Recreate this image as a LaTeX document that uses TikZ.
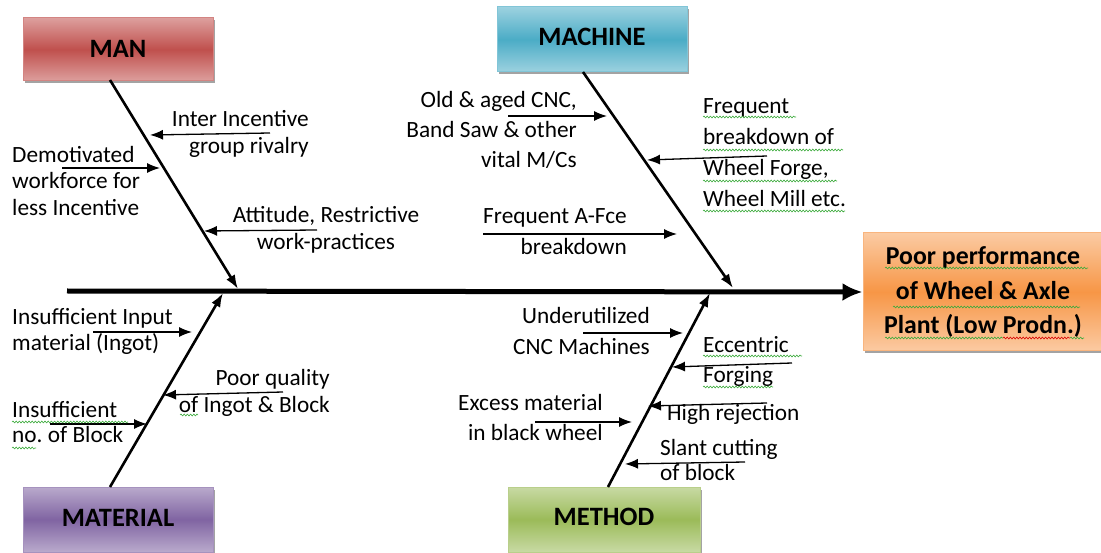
\documentclass[tikz,border=0pt]{standalone}
\usepackage{fontspec}
\setmainfont{Carlito}
\usetikzlibrary{arrows.meta,shadows,decorations.pathmorphing}
\definecolor{manc}{HTML}{C0504D}
\definecolor{macc}{HTML}{4BACC6}
\definecolor{matc}{HTML}{8064A2}
\definecolor{metc}{HTML}{9BBB59}
\definecolor{resc}{HTML}{F79646}
\definecolor{squig}{HTML}{3BAA3B}
\begin{document}
\begin{tikzpicture}[x=1pt,y=-1pt,
  catbox/.style={draw=#1!70!white, line width=1pt, top color=#1!55!white, bottom color=#1!55!white, middle color=#1,
    minimum width=190pt, minimum height=63pt, inner sep=0pt,
    font=\fontsize{26.5}{30}\selectfont\bfseries,
    drop shadow={shadow xshift=2pt, shadow yshift=-2.5pt, fill=black!60, opacity=0.6}},
  lbl/.style={inner sep=0pt, font=\fontsize{23.3}{27}\selectfont},
  spine/.style={line width=5pt, -{Latex[length=20pt,width=18pt]}},
  bone/.style={line width=2.6pt, -{Latex[length=14pt,width=10pt]}},
  sub/.style={line width=1.3pt, -{Latex[length=13pt,width=10pt]}},
  wavy/.style={draw=squig, line width=0.6pt, decorate, decoration={snake, amplitude=0.9pt, segment length=3.2pt}},
  wavyr/.style={wavy, draw=red!85!black}]
\useasboundingbox (0,0) rectangle (1101,553);

% category boxes
\node[catbox=manc] (man) at (118,49.5) {\raisebox{2pt}{MAN}};
\node[catbox=macc, minimum height=65pt] (mach) at (592,39.5) {\raisebox{4.5pt}{MACHINE}};
\node[catbox=matc, minimum height=65pt] (mat) at (118,519.5) {\raisebox{4pt}{MATERIAL}};
\node[catbox=metc, minimum height=65pt, minimum width=192pt] (meth) at (604,519.5) {\raisebox{5pt}{METHOD}};

% result box
\node[draw=resc!70!white, line width=1pt, top color=resc!50!white, bottom color=resc!50!white, middle color=resc,
  minimum width=240pt, minimum height=118pt, inner sep=0pt, align=center,
  font=\fontsize{25.8}{34.5}\selectfont\bfseries,
  drop shadow={shadow xshift=2pt, shadow yshift=-2.5pt, fill=black!60, opacity=0.6}] (res) at (983,292)
  {Poor performance\\of Wheel \& Axle\\Plant (Low Prodn.)};

% spine
\coordinate (spL) at (67,291);
\draw[spine] (spL) -- (res.west);

% bones
\coordinate (manB) at (110,80);   \coordinate (manT) at (238,289);
\coordinate (macB) at (583,72);   \coordinate (macT) at (733,288);
\coordinate (matB) at (110,487);  \coordinate (matT) at (223,293);
\coordinate (metB) at (608,487);  \coordinate (metT) at (710,293);
\draw[bone] (manB) -- (manT);
\draw[bone] (macB) -- (macT);
\draw[bone] (matB) -- (matT);
\draw[bone] (metB) -- (metT);

% MAN causes
\node[lbl, anchor=north east, align=right] (m1) at (309,110) {Inter Incentive\\group rivalry};
\node[lbl, anchor=north west, align=left, font=\fontsize{23.3}{26.5}\selectfont] (m2) at (12,146) {Demotivated\\workforce for\\less Incentive};
\node[lbl, anchor=north, align=center] (m3) at (326,206) {Attitude, Restrictive\\work-practices};
\coordinate (m1a) at (270,133); \coordinate (m1b) at (150,135);
\coordinate (m2a) at (62,168);  \coordinate (m2b) at (160,168);
\coordinate (m3a) at (317,230); \coordinate (m3b) at (204,231);
\draw[sub] (m1a) -- (m1b);
\draw[sub] (m2a) -- (m2b);
\draw[sub] (m3a) -- (m3b);

% MACHINE causes
\node[lbl, anchor=north east, align=right, font=\fontsize{23.3}{30}\selectfont] (c1) at (577,91) {Old \& aged CNC,\\Band Saw \& other\\vital M/Cs};
\node[lbl, anchor=north west, align=left, font=\fontsize{23.3}{31}\selectfont] (c2) at (703,98) {Frequent\\breakdown of\\Wheel Forge,\\Wheel Mill etc.};
\node[lbl, anchor=north east, align=right, font=\fontsize{23.3}{31}\selectfont] (c3) at (627,208) {Frequent A-Fce\\breakdown};
\coordinate (c1a) at (508,116); \coordinate (c1b) at (607,116);
\coordinate (c2a) at (767,156); \coordinate (c2b) at (647,160);
\coordinate (c3a) at (483,234); \coordinate (c3b) at (677,234);
\draw[sub] (c1a) -- (c1b);
\draw[sub] (c2a) -- (c2b);
\draw[sub] (c3a) -- (c3b);

% MATERIAL causes
\node[lbl, anchor=north west, align=left, font=\fontsize{23.3}{26}\selectfont] (t1) at (12,308) {Insufficient Input\\material (Ingot)};
\node[lbl, anchor=north east, align=right] (t2) at (330,369) {Poor quality\\of Ingot \& Block};
\node[lbl, anchor=north west, align=left, font=\fontsize{23.3}{25}\selectfont] (t3) at (12,401) {Insufficient\\no.\ of Block};
\coordinate (t1a) at (93,332);  \coordinate (t1b) at (192,332);
\coordinate (t2a) at (283,392); \coordinate (t2b) at (163,395);
\coordinate (t3a) at (50,424);  \coordinate (t3b) at (147,424);
\draw[sub] (t1a) -- (t1b);
\draw[sub] (t2a) -- (t2b);
\draw[sub] (t3a) -- (t3b);

% METHOD causes
\node[lbl, anchor=north east, align=right, font=\fontsize{23.3}{31}\selectfont] (h1) at (650,307) {Underutilized\\CNC Machines};
\node[lbl, anchor=north west, align=left, font=\fontsize{23.3}{30}\selectfont] (h2) at (703,336) {Eccentric\\Forging};
\node[lbl, anchor=north west] (h3) at (667,404) {High rejection};
\node[lbl, anchor=north east, align=right, font=\fontsize{23.3}{30}\selectfont] (h4) at (603,394) {Excess material\\in black wheel};
\node[lbl, anchor=north west, align=left, font=\fontsize{23.3}{25}\selectfont] (h5) at (660,439) {Slant cutting\\of block};
\coordinate (h1a) at (583,333); \coordinate (h1b) at (683,333);
\coordinate (h2a) at (792,363); \coordinate (h2b) at (672,367);
\coordinate (h3a) at (767,403); \coordinate (h3b) at (648,406);
\coordinate (h4a) at (535,422); \coordinate (h4b) at (632,422);
\coordinate (h5a) at (745,462); \coordinate (h5b) at (625,464);
\draw[sub] (h1a) -- (h1b);
\draw[sub] (h2a) -- (h2b);
\draw[sub] (h3a) -- (h3b);
\draw[sub] (h4a) -- (h4b);
\draw[sub] (h5a) -- (h5b);

% spell-check squiggles
\draw[wavy] (703,117) -- (796,117);
\draw[wavy] (703,150) -- (843,150);
\draw[wavy] (703,181) -- (837,181);
\draw[wavy] (703,211) -- (845,211);
\draw[wavy] (12,422) -- (128,422);
\draw[wavy] (12,448) -- (36,448);
\draw[wavy] (180,415) -- (198,415);
\draw[wavy] (703,356) -- (802,356);
\draw[wavy] (703,387) -- (773,387);
\draw[wavy] (885,268) -- (1088,268);
\draw[wavy] (893,307) -- (1080,307);
\draw[wavy] (885,338) -- (1003,338);
\draw[wavyr] (1003,338) -- (1070,338);
\draw[wavy] (1070,338) -- (1084,338);
\end{tikzpicture}
\end{document}
